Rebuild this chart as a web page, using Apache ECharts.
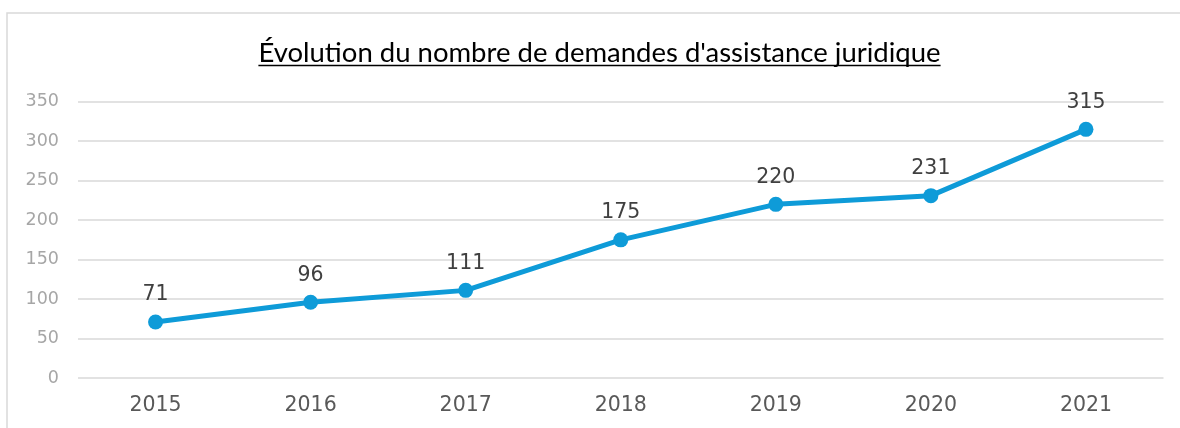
<!DOCTYPE html>
<html>
<head>
<meta charset="utf-8">
<script src="https://cdn.jsdelivr.net/npm/echarts@6/dist/echarts.min.js"></script>
<style>
html,body{margin:0;padding:0;background:#fff;}
#chart{width:1180px;height:428px;}
</style>
</head>
<body>
<div id="chart"></div>
<script>
const titleText = "Évolution du nombre de demandes d'assistance juridique";
const categories = ['2015', '2016', '2017', '2018', '2019', '2020', '2021'];
const demandes = [71, 96, 111, 175, 220, 231, 315];
const yTicks = { min: 0, max: 350, interval: 50 };

const titleSize = 27.5;
const titleFont = titleSize + 'px Lato';
const chart = echarts.init(document.getElementById('chart'), null, { renderer: 'canvas' });

function measure(text, font) {
  const c = document.createElement('canvas').getContext('2d');
  c.font = font;
  return c.measureText(text).width;
}
const tw = measure(titleText, titleFont);
const cx = 599.5;

chart.setOption({
  animation: false,
  backgroundColor: '#ffffff',
  title: {
    text: titleText,
    left: cx - tw / 2,
    top: 39.5,
    padding: 0,
    textStyle: { fontFamily: 'Lato', fontSize: titleSize, fontWeight: 'normal', color: '#000000' }
  },
  graphic: [
    { type: 'rect', shape: { x: 7, y: 13, width: 1200, height: 440 }, style: { fill: 'none', stroke: '#d9d9d9', lineWidth: 1.5 }, silent: true },
    { type: 'line', shape: { x1: cx - tw / 2, y1: 65.5, x2: cx + tw / 2, y2: 65.5 }, style: { stroke: '#000', lineWidth: 1.5 }, silent: true }
  ],
  grid: { left: 78, right: 16.5, top: 101.7, bottom: 50, containLabel: false },
  xAxis: {
    type: 'category',
    data: categories,
    boundaryGap: true,
    axisLine: { show: false },
    axisTick: { show: false },
    axisLabel: { color: '#595959', fontFamily: 'DejaVu Sans', fontSize: 20.5, margin: 17 }
  },
  yAxis: {
    type: 'value',
    min: yTicks.min, max: yTicks.max, interval: yTicks.interval,
    axisLine: { show: false },
    axisTick: { show: false },
    splitLine: { lineStyle: { color: '#d9d9d9', width: 1.5 } },
    axisLabel: { color: '#a6a6a6', fontFamily: 'DejaVu Sans', fontSize: 17.5, margin: 19 }
  },
  series: [{
    type: 'line',
    data: demandes,
    symbol: 'circle',
    symbolSize: 15,
    lineStyle: { color: '#0e9bd8', width: 5 },
    itemStyle: { color: '#0e9bd8' },
    label: { show: true, position: 'top', distance: 9, color: '#404040', fontFamily: 'DejaVu Sans', fontSize: 20.5 }
  }]
});
</script>
</body>
</html>
